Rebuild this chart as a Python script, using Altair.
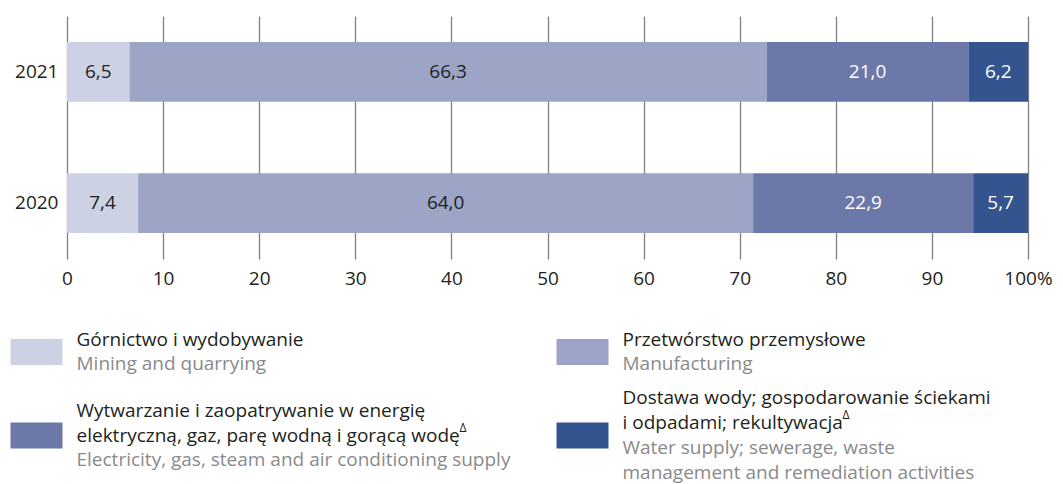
import altair as alt
import pandas as pd

FONT = "Open Sans"
DARK = "#231f20"
GREY = "#8a8a8a"

years = ["2021", "2020"]
sectors = [
    "Górnictwo i wydobywanie",
    "Przetwórstwo przemysłowe",
    "Wytwarzanie i zaopatrywanie w energię",
    "Dostawa wody; gospodarowanie ściekami",
]
share_2021 = [6.5, 66.3, 21.0, 6.2]
share_2020 = [7.4, 64.0, 22.9, 5.7]
x_ticks = [0, 10, 20, 30, 40, 50, 60, 70, 80, 90, 100]
colors = ["#cdd1e4", "#9ca5c6", "#6b78a8", "#33548e"]

legend_pl = [
    ["Górnictwo i wydobywanie"],
    ["Przetwórstwo przemysłowe"],
    ["Wytwarzanie i zaopatrywanie w energię", "elektryczną, gaz, parę wodną i gorącą wodę"],
    ["Dostawa wody; gospodarowanie ściekami", "i odpadami; rekultywacja"],
]
legend_en = [
    ["Mining and quarrying"],
    ["Manufacturing"],
    ["Electricity, gas, steam and air conditioning supply"],
    ["Water supply; sewerage, waste", "management and remediation activities"],
]
legend_delta = [False, False, True, True]
legend_col = [0, 1, 0, 1]
legend_row = [0, 0, 1, 1]

# ---------- main chart data ----------
rows = []
for y, vals in zip(years, [share_2021, share_2020]):
    for i, (s, v) in enumerate(zip(sectors, vals)):
        rows.append({"year": y, "sector": s, "order": i, "value": v})
df = pd.DataFrame(rows)

base = (
    alt.Chart(df)
    .transform_stack(stack="value", groupby=["year"], sort=[alt.SortField("order")], as_=["x0", "x1"])
    .transform_calculate(
        mid="(datum.x0 + datum.x1) / 2",
        lbl="replace(format(datum.value, '.1f'), '.', ',')",
    )
)

y_enc = alt.Y(
    "year:N",
    sort=years,
    scale=alt.Scale(paddingInner=0.545, paddingOuter=0.197),
    axis=alt.Axis(domain=False, ticks=False, title=None, labelPadding=9,
                  labelFont=FONT, labelFontSize=19, labelColor=DARK),
)

bars = base.mark_bar().encode(
    x=alt.X(
        "x0:Q",
        scale=alt.Scale(domain=[0, 100], nice=False),
        axis=alt.Axis(values=x_ticks, grid=True, gridColor="#808080", gridWidth=1.3,
                      domain=False, ticks=False, title=None, labelPadding=10,
                      labelFont=FONT, labelFontSize=19, labelColor=DARK,
                      labelExpr="datum.value == 100 ? '100%' : datum.label",
                      labelOverlap=False, labelBound=False, labelFlush=False),
    ),
    x2="x1:Q",
    y=y_enc,
    color=alt.Color("sector:N", scale=alt.Scale(domain=sectors, range=colors), legend=None),
)

labels = base.mark_text(font=FONT, fontSize=19, baseline="middle", align="center").encode(
    x="mid:Q",
    y=alt.Y("year:N", sort=years),
    text="lbl:N",
    color=alt.condition("datum.order >= 2", alt.value("#ffffff"), alt.value(DARK)),
)

main = alt.layer(bars, labels).properties(width=961, height=243)

# ---------- legend ----------
LINE = 24.7
ROW_STEP = 83.5
ROW0 = 50.0
lrows = []
srows = []
for i in range(len(sectors)):
    lines = [(t, "pl") for t in legend_pl[i]] + [(t, "en") for t in legend_en[i]]
    n = len(lines)
    for k, (t, lang) in enumerate(lines):
        lrows.append({"item": i, "col": legend_col[i], "row": legend_row[i], "k": k, "n": n,
                      "text": t, "lang": lang})
    srows.append({"item": i, "sector": sectors[i], "col": legend_col[i], "row": legend_row[i],
                  "n": n, "npl": len(legend_pl[i]), "delta": legend_delta[i]})
ldf = pd.DataFrame(lrows)
sdf = pd.DataFrame(srows)

x_leg = alt.Scale(domain=[0, 1], range=[-30.5, 515.5])
y_leg = alt.Scale(domain=[0, 150], range=[0, 150])

swatch = (
    alt.Chart(sdf)
    .transform_calculate(pos=f"datum.row * {ROW_STEP} + {ROW0}")
    .mark_point(shape="M-1,-0.5L1,-0.5L1,0.5L-1,0.5Z", size=2704, filled=True, opacity=1, strokeWidth=0)
    .encode(
        x=alt.X("col:Q", scale=x_leg, axis=None),
        y=alt.Y("pos:Q", scale=y_leg, axis=None),
        color=alt.Color("sector:N", scale=alt.Scale(domain=sectors, range=colors), legend=None),
    )
)

text = (
    alt.Chart(ldf)
    .transform_calculate(pos=f"datum.row * {ROW_STEP} + {ROW0} + (datum.k - (datum.n - 1) / 2) * {LINE}")
    .mark_text(font=FONT, fontSize=19, align="left", baseline="middle", dx=40)
    .encode(
        x=alt.X("col:Q", scale=x_leg, axis=None),
        y=alt.Y("pos:Q", scale=y_leg, axis=None),
        text="text:N",
        color=alt.condition("datum.lang == 'en'", alt.value(GREY), alt.value(DARK)),
    )
)

delta_dx = {0: 423, 1: 260}
delta_layers = []
for c in (0, 1):
    delta_layers.append(
        alt.Chart(sdf)
        .transform_filter(f"datum.delta && datum.col == {c}")
        .transform_calculate(pos=f"datum.row * {ROW_STEP} + {ROW0} + (datum.npl - 1 - (datum.n - 1) / 2) * {LINE}")
        .mark_text(font=FONT, fontSize=12, align="left", baseline="middle", dx=delta_dx[c], dy=-8, text="Δ")
        .encode(
            x=alt.X("col:Q", scale=x_leg, axis=None),
            y=alt.Y("pos:Q", scale=y_leg, axis=None),
            color=alt.value(DARK),
        )
    )

legend = alt.layer(swatch, text, *delta_layers).properties(width=961, height=150)

chart = (
    alt.vconcat(main, legend, spacing=14)
    .properties(padding={"top": 8, "left": 2, "right": 2, "bottom": 3})
    .configure_view(stroke=None)
)

chart.save("out.html", embed_options={"renderer": "svg", "actions": False})
